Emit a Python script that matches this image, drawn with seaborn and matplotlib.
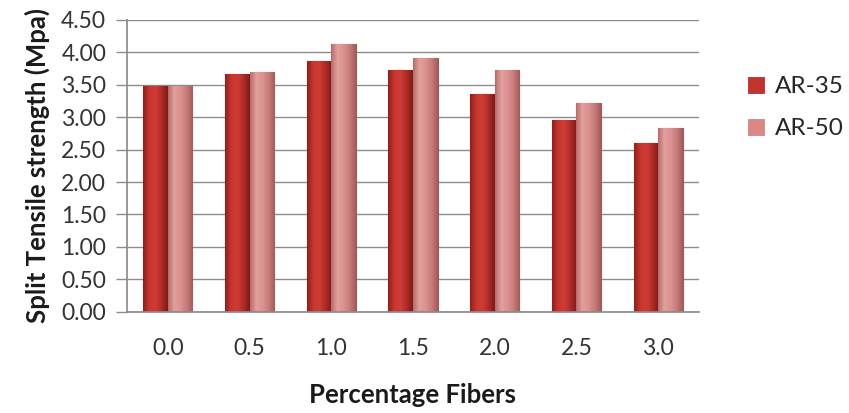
import numpy as np
import pandas as pd
import matplotlib
matplotlib.use("Agg")
import matplotlib.pyplot as plt
import seaborn as sns
from matplotlib.colors import LinearSegmentedColormap

# Data
fibers = ["0.0", "0.5", "1.0", "1.5", "2.0", "2.5", "3.0"]
ar35 = [3.48, 3.67, 3.87, 3.73, 3.36, 2.96, 2.60]
ar50 = [3.48, 3.69, 4.13, 3.91, 3.73, 3.22, 2.83]
series = ["AR-35", "AR-50"]
yticks = [0.0, 0.5, 1.0, 1.5, 2.0, 2.5, 3.0, 3.5, 4.0, 4.5]

df = pd.DataFrame({
    "fiber": fibers * 2,
    "strength": ar35 + ar50,
    "series": [series[0]] * len(fibers) + [series[1]] * len(fibers),
})

sns.set_theme(style="white")
plt.rcParams["font.family"] = ["Lato", "DejaVu Sans"]

palette = {"AR-35": "#c0332f", "AR-50": "#d98886"}
edges = {"AR-35": "#7a1a17", "AR-50": "#9a5a58"}

fig = plt.figure(figsize=(8.49, 4.13), dpi=100)
ax = fig.add_axes([0.1496, 0.2453, 0.6737, 0.7063])

sns.barplot(data=df, x="fiber", y="strength", hue="series", order=fibers,
            hue_order=series, palette=palette, width=0.6, gap=0,
            saturation=1, linewidth=0.8, ax=ax)

# horizontal shading on each bar, clipped to the bar shape
cmaps = {
    "AR-35": LinearSegmentedColormap.from_list(
        "a35", ["#8e201c", "#c8362f", "#cf3c35", "#b02b27", "#7e1b18"]),
    "AR-50": LinearSegmentedColormap.from_list(
        "a50", ["#b86c6a", "#e0a09e", "#dc928f", "#c77c7a", "#a45c5a"]),
}
grad = np.linspace(0, 1, 64).reshape(1, -1)
for cont, name in zip(ax.containers, series):
    for bar in cont:
        bar.set_edgecolor(edges[name])
        x0, y0 = bar.get_x(), bar.get_y()
        w, h = bar.get_width(), bar.get_height()
        im = ax.imshow(grad, cmap=cmaps[name], aspect="auto",
                       extent=[x0, x0 + w, y0, y0 + h], zorder=bar.get_zorder())
        im.set_clip_path(bar)

ax.set_xlim(-0.5, len(fibers) - 0.5)
ax.set_ylim(0, 4.5)
ax.set_yticks(yticks)
ax.set_yticklabels([f"{t:.2f}" for t in yticks])
ax.yaxis.grid(True, color="#8c8c8c", linewidth=1.0)
ax.set_axisbelow(True)

for s in ["top", "right"]:
    ax.spines[s].set_visible(False)
ax.spines["left"].set_color("#8c8c8c")
ax.spines["bottom"].set_color("#8c8c8c")

ax.tick_params(axis="y", which="major", left=True, length=8, width=1,
               color="#8c8c8c", labelsize=16.5, labelcolor="#333333", pad=7)
ax.tick_params(axis="x", bottom=False, labelsize=16.5, labelcolor="#333333", pad=13)

ax.set_xlabel("Percentage Fibers", fontsize=18.5, fontweight="bold",
              color="#1a1a1a", labelpad=17)
ax.set_ylabel("Split Tensile strength (Mpa)", fontsize=18.5, fontweight="bold",
              color="#1a1a1a", labelpad=8)

ax.legend(loc="center left", bbox_to_anchor=(1.045, 0.70), frameon=False,
          fontsize=17.5, handlelength=0.75, handleheight=0.75,
          handletextpad=0.4, labelspacing=0.85, title=None)

fig.savefig("out.png", dpi=100)
